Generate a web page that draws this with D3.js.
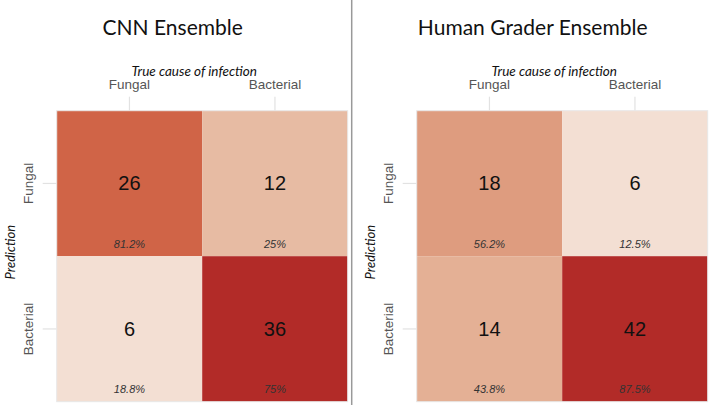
<!DOCTYPE html>
<html>
<head>
<meta charset="utf-8">
<script src="https://cdn.jsdelivr.net/npm/d3@7"></script>
<style>
  body { margin: 0; background: #fff; }
  svg { display: block; }
</style>
</head>
<body>
<svg id="chart" width="711" height="405"></svg>
<script>
// categories (same for both axes)
const classes = ["Fungal", "Bacterial"];
const panelTitles = ["CNN Ensemble", "Human Grader Ensemble"];

// counts: rows = prediction, cols = true cause
const cnnCounts = [[26, 12], [6, 36]];
const cnnPercents = [["81.2%", "25%"], ["18.8%", "75%"]];
const humanCounts = [[18, 6], [14, 42]];
const humanPercents = [["56.2%", "12.5%"], ["43.8%", "87.5%"]];

const svg = d3.select("#chart");

// fill colour by count
const color = d3.scaleLinear()
    .domain([6, 13, 18, 26, 36])
    .range(["#f3dfd3", "#e5b59b", "#de9c7f", "#d06447", "#b22b28"])
    .clamp(true);

const grid = {"size": 291, "top": 110.7};

function drawPanel(offsetX, title, counts, percents) {
    let g = svg.append("g").attr("transform", `translate(${offsetX},0)`);

    let x = d3.scaleBand().domain(classes).range([0, grid.size]);
    let y = d3.scaleBand().domain(classes).range([grid.top, grid.top + grid.size]);

    // title, centred over the half of the image
    g.append("text")
        .attr("x", 116)
        .attr("y", 35)
        .attr("text-anchor", "middle")
        .style("font-family", "Lato")
        .style("font-size", "21px")
        .attr("fill", "#111")
        .text(title);

    g.append("text")
        .attr("x", grid.size / 2 - 8)
        .attr("y", 76)
        .attr("text-anchor", "middle")
        .style("font-family", "Lato")
        .style("font-style", "italic")
        .style("font-size", "13.5px")
        .attr("fill", "#111")
        .text("True cause of infection");

    g.append("text")
        .attr("transform", `translate(-42,${grid.top + grid.size / 2 - 4}) rotate(-90)`)
        .attr("text-anchor", "middle")
        .style("font-family", "Lato")
        .style("font-style", "italic")
        .style("font-size", "13px")
        .attr("fill", "#111")
        .text("Prediction");

    // axes
    let xAxis = g.append("g")
        .attr("transform", `translate(0,${grid.top})`)
        .call(d3.axisTop(x).tickSize(14).tickPadding(8));
    let yAxis = g.append("g")
        .call(d3.axisLeft(y).tickSize(14).tickPadding(7));

    [xAxis, yAxis].forEach(a => {
        a.select(".domain").remove();
        a.selectAll(".tick line").attr("stroke", "#e2e2e2").attr("stroke-width", 1.2);
        a.selectAll(".tick text")
            .attr("fill", "#555")
            .style("font-family", "Liberation Sans, Arial")
            .style("font-size", "13.5px");
    });
    yAxis.selectAll(".tick text")
        .attr("text-anchor", "middle")
        .attr("x", null)
        .attr("transform", "translate(-28.5,0) rotate(-90)")
        .attr("dy", "0.35em");

    // cells
    let cells = [];
    counts.forEach((row, i) => row.forEach((v, j) => {
        cells.push({"pred": classes[i], "truth": classes[j], "n": v, "pct": percents[i][j]});
    }));

    let cell = g.selectAll(".cell").data(cells).enter().append("g").attr("class", "cell");

    cell.append("rect")
        .attr("x", d => x(d.truth))
        .attr("y", d => y(d.pred))
        .attr("width", x.bandwidth())
        .attr("height", y.bandwidth())
        .attr("fill", d => color(d.n));

    cell.append("text")
        .attr("x", d => x(d.truth) + x.bandwidth() / 2)
        .attr("y", d => y(d.pred) + y.bandwidth() / 2)
        .attr("dy", "0.35em")
        .attr("text-anchor", "middle")
        .style("font-family", "Liberation Sans, Arial")
        .style("font-size", "20px")
        .attr("fill", "#111")
        .text(d => d.n);

    cell.append("text")
        .attr("x", d => x(d.truth) + x.bandwidth() / 2)
        .attr("y", d => y(d.pred) + y.bandwidth() - 12.5)
        .attr("dy", "0.35em")
        .attr("text-anchor", "middle")
        .style("font-family", "Liberation Sans, Arial")
        .style("font-style", "italic")
        .style("font-size", "11px")
        .attr("fill", "#333")
        .text(d => d.pct);

    // faint outline round the grid
    g.append("rect")
        .attr("x", 0).attr("y", grid.top)
        .attr("width", grid.size).attr("height", grid.size)
        .attr("fill", "none")
        .attr("stroke", "#e8e8e8")
        .attr("stroke-width", 1);
}

drawPanel(56.7, panelTitles[0], cnnCounts, cnnPercents);
drawPanel(416.7, panelTitles[1], humanCounts, humanPercents);

// divider between the two panels
svg.append("line")
    .attr("x1", 351.7).attr("x2", 351.7)
    .attr("y1", 0).attr("y2", 405)
    .attr("stroke", "#999")
    .attr("stroke-width", 1.5);
</script>
</body>
</html>
